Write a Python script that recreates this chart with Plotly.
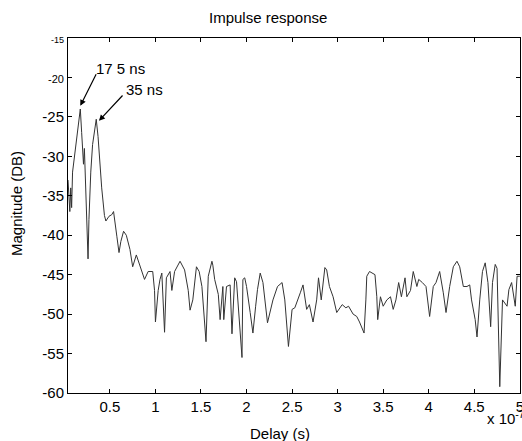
import plotly.graph_objects as go

# Delay in units of 1e-7 s, magnitude in dB
delay_e7 = [0.04, 0.05, 0.06, 0.07, 0.08, 0.09, 0.11, 0.13, 0.15, 0.175, 0.19, 0.21, 0.22, 0.24, 0.26, 0.27,
            0.29, 0.31, 0.33, 0.35, 0.37, 0.39, 0.41, 0.44, 0.456, 0.49, 0.52, 0.54, 0.56, 0.577, 0.6, 0.62,
            0.65, 0.68, 0.72, 0.75, 0.79, 0.85, 0.88, 0.92, 0.97, 0.99, 1.0, 1.03, 1.05, 1.07, 1.10, 1.12,
            1.16, 1.18, 1.21, 1.27, 1.29, 1.32, 1.36, 1.38, 1.41, 1.45, 1.48, 1.51, 1.555, 1.58, 1.62, 1.63,
            1.65, 1.69, 1.71, 1.74, 1.75, 1.78, 1.82, 1.84, 1.87, 1.89, 1.95, 1.96, 1.98, 2.0, 2.04, 2.07,
            2.1, 2.12, 2.15, 2.18, 2.23, 2.29, 2.34, 2.39, 2.42, 2.46, 2.5, 2.53, 2.59, 2.62, 2.66, 2.69,
            2.73, 2.77, 2.79, 2.82, 2.86, 2.88, 2.91, 2.95, 2.99, 3.05, 3.09, 3.12, 3.17, 3.21, 3.24, 3.29,
            3.31, 3.32, 3.35, 3.41, 3.43, 3.44, 3.47, 3.5, 3.54, 3.58, 3.61, 3.64, 3.67, 3.70, 3.74, 3.76,
            3.80, 3.83, 3.87, 3.89, 3.93, 3.97, 4.01, 4.05, 4.08, 4.12, 4.16, 4.19, 4.23, 4.27, 4.31, 4.34,
            4.38, 4.42, 4.45, 4.47, 4.51, 4.53, 4.56, 4.59, 4.62, 4.65, 4.68, 4.70, 4.73, 4.75, 4.78, 4.80,
            4.81, 4.86, 4.88, 4.91, 4.95, 4.97, 5.0]
magnitude_db = [-33, -35.5, -37, -34, -36.5, -32, -30, -28.5, -26.5, -24, -27, -31, -29, -35, -43, -38,
                -32, -28.5, -26.5, -25.3, -27.5, -31, -34, -37.5, -38.2, -37.6, -37.4, -37, -38.5, -40.2, -42.2, -40.8,
                -39.5, -40, -41.8, -44, -42.5, -44.6, -45.6, -44.6, -44.6, -47, -51, -47, -45.6, -44.8, -52.3, -45.4,
                -44.6, -47, -44.6, -43.3, -43.8, -44.4, -47, -49.5, -48.2, -44, -44.6, -46.5, -53.5, -45.2, -43.3, -43.8,
                -45.6, -47.5, -50.7, -46.5, -50.7, -46.5, -46.3, -52.5, -45.4, -45.9, -55.5, -45.6, -45.4, -46.5, -49.8, -52.4,
                -49, -46.9, -44.8, -46, -51.1, -48.2, -46.5, -46, -48.2, -54.1, -49.4, -49.2, -47.3, -46.3, -49.4, -48.8,
                -51, -48.2, -45.4, -48.2, -44.1, -44.4, -46.5, -47.8, -49.8, -48.8, -49.2, -49, -50, -50.3, -51, -52.4,
                -48.2, -45.2, -44.6, -45, -47.8, -50.7, -47.8, -49, -48.2, -47.8, -49.4, -48.2, -46, -47.8, -45.4, -47.8,
                -47, -44.6, -46.5, -45.6, -46, -46.5, -50.3, -46.5, -46, -44.6, -47.3, -49.8, -46.5, -44, -43.3, -44,
                -46.5, -46.5, -46.3, -48.2, -50.7, -52.9, -48.2, -44.6, -43.5, -46, -51.6, -46, -43.7, -44.2, -59.2, -52.5,
                -48.2, -49, -46.9, -46, -49, -45.2, -45.2]

x_tickvals = [0.5, 1, 1.5, 2, 2.5, 3, 3.5, 4, 4.5, 5]
x_ticktext = ["0.5", "1", "1.5", "2", "2.5", "3", "3.5", "4", "4.5", "5"]
y_tickvals = [-15, -20, -25, -30, -35, -40, -45, -50, -55, -60]
y_ticktext = ["<span style='font-size:9px'>-15</span>", "<span style='font-size:11px'>-20</span>",
              "-25", "-30", "-35", "-40", "-45", "-50", "-55", "-60"]

peak_labels = ["17 5 ns", "35 ns"]

FONT = "Liberation Sans, Arial, Helvetica, sans-serif"
FS = 15

fig = go.Figure()
fig.add_trace(go.Scatter(x=delay_e7, y=magnitude_db, mode="lines",
                         line=dict(color="#333333", width=1), showlegend=False))

axis_common = dict(showline=True, linecolor="black", linewidth=1, mirror="allticks",
                   ticks="inside", ticklen=4, tickcolor="black", showgrid=False, zeroline=False,
                   automargin=False, ticklabeloverflow="allow",
                   tickfont=dict(family=FONT, size=FS, color="black"))

fig.update_xaxes(range=[0.04, 5.002], tickvals=x_tickvals, ticktext=x_ticktext, **axis_common)
fig.update_yaxes(range=[-60, -15], tickvals=y_tickvals, ticktext=y_ticktext, **axis_common)

# arrows
fig.add_annotation(x=0.175, y=-23.6, ax=0.357, ay=-19.4, xref="x", yref="y", axref="x", ayref="y",
                   text="", showarrow=True, arrowhead=2, arrowsize=1, arrowwidth=1.2, arrowcolor="black")
fig.add_annotation(x=0.38, y=-25.5, ax=0.654, ay=-22.1, xref="x", yref="y", axref="x", ayref="y",
                   text="", showarrow=True, arrowhead=2, arrowsize=1, arrowwidth=1.2, arrowcolor="black")
fig.add_annotation(x=0.33, y=-18.9, xref="x", yref="y", text=peak_labels[0], showarrow=False,
                   xanchor="left", yanchor="middle", font=dict(family=FONT, size=FS, color="black"))
fig.add_annotation(x=0.66, y=-21.5, xref="x", yref="y", text=peak_labels[1], showarrow=False,
                   xanchor="left", yanchor="middle", font=dict(family=FONT, size=FS, color="black"))

# titles
fig.add_annotation(x=(268 - 68) / 452, y=1 + (38 - 17) / 355, xref="paper", yref="paper",
                   text="Impulse response", showarrow=False, xanchor="center", yanchor="middle",
                   font=dict(family=FONT, size=FS, color="black"))
fig.add_annotation(x=(280 - 68) / 452, y=-(433 - 393) / 355, xref="paper", yref="paper",
                   text="Delay (s)", showarrow=False, xanchor="center", yanchor="middle",
                   font=dict(family=FONT, size=FS, color="black"))
fig.add_annotation(x=(16 - 68) / 452, y=(393 - 204) / 355, xref="paper", yref="paper",
                   text="Magnitude (DB)", showarrow=False, textangle=-90, xanchor="center", yanchor="middle",
                   font=dict(family=FONT, size=FS, color="black"))
fig.add_annotation(x=(485 - 68) / 452, y=-(418 - 393) / 355, xref="paper", yref="paper",
                   text="x 10<sup>-7</sup>", showarrow=False, xanchor="left", yanchor="middle",
                   font=dict(family=FONT, size=FS, color="black"))

fig.update_layout(width=522, height=441, margin=dict(l=68, r=2, t=38, b=48),
                  paper_bgcolor="white", plot_bgcolor="white",
                  font=dict(family=FONT, size=FS, color="black"))

fig.write_html("out.html", config={"displayModeBar": False},
               post_script="document.body.style.margin='0';document.body.style.overflow='hidden';")
